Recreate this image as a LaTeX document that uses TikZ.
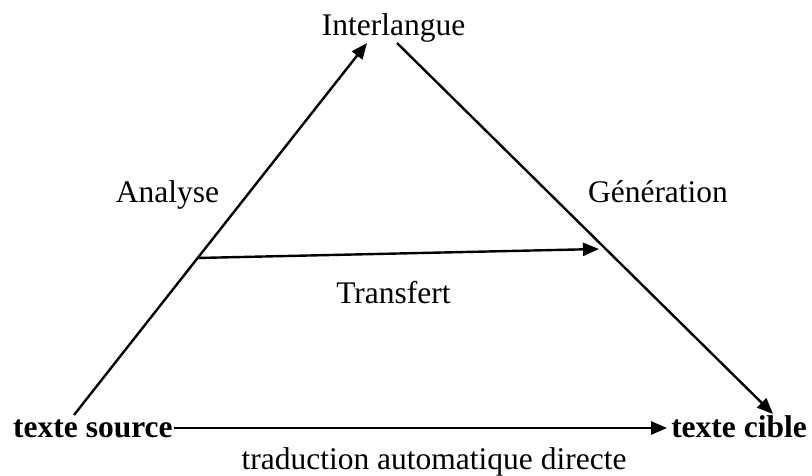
\documentclass[tikz,border=0pt]{standalone}
\usepackage{fontspec}
\setmainfont{Liberation Serif}
\usetikzlibrary{arrows.meta}
\tikzset{
  lbl/.style={inner sep=0pt, anchor=base, font=\fontsize{31.5}{36}\selectfont},
  boldlbl/.style={lbl, font=\fontsize{31.5}{36}\selectfont\bfseries},
  arr/.style={line width=2.4pt, -{Triangle[length=16pt,width=13pt]}},
}
\begin{document}
\begin{tikzpicture}[x=1pt,y=-1pt]
  \useasboundingbox (0,0) rectangle (812,476);
  % labels
  \node[lbl] (inter) at (393.5,36) {Interlangue};
  \node[lbl] (ana) at (167.5,203) {Analyse};
  \node[lbl] (gen) at (658,203) {Génération};
  \node[lbl] (trans) at (393.5,303) {Transfert};
  \node[boldlbl, anchor=base west] (src) at (13,437) {texte source};
  \node[boldlbl, anchor=base east] (tgt) at (807,437) {texte cible};
  \node[lbl] (direct) at (434,469) {traduction automatique directe};
  % corners of the triangle
  \coordinate (ls) at (74,415);
  \coordinate (lt) at (367,43);
  \coordinate (rt) at (397,43);
  \coordinate (rs) at (773,414);
  \coordinate (tr1) at (197,258);
  \coordinate (tr2) at (599,249);
  \draw[arr] (ls) -- (lt);
  \draw[arr] (rt) -- (rs);
  \draw[arr] (tr1) -- (tr2);
  \draw[arr] ([xshift=1pt,yshift=9pt]src.base east) -- ([xshift=-4pt,yshift=9pt]tgt.base west);
\end{tikzpicture}
\end{document}
